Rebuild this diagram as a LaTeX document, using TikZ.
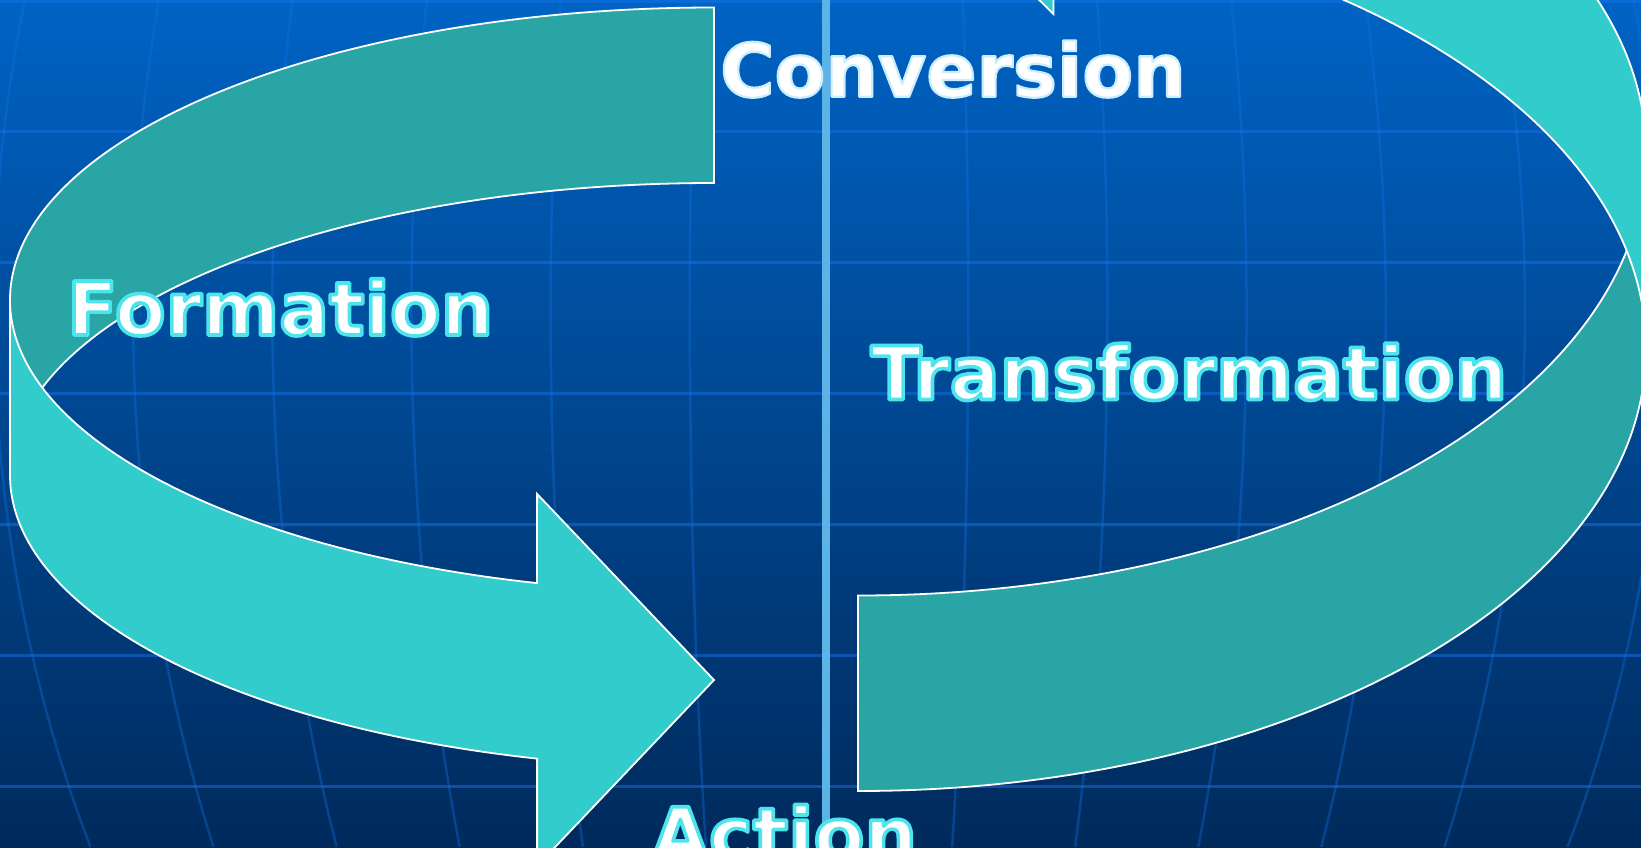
\documentclass[tikz,border=0pt]{standalone}
\usepackage{fontspec}
\newfontfamily\lblfont{DejaVu Sans}
\definecolor{bgtop}{HTML}{0063C4}
\definecolor{bgmid}{HTML}{00468F}
\definecolor{bgbot}{HTML}{002A5C}
\definecolor{gridc}{HTML}{1472E8}
\definecolor{tealdark}{HTML}{29A5A5}
\definecolor{teallight}{HTML}{33CCCC}
\definecolor{dividerc}{HTML}{5CB4E6}
% outlined text: fill (current colour) plus a stroke of given width and rgb colour
\newcommand\outl[3]{\special{pdf:literal direct #2 RG #1 w 1 j 2 Tr}#3\special{pdf:literal direct 0 Tr}}
\newcommand\glowlbl[1]{\textcolor{white}{\outl{3.6}{0.30 0.90 0.93}{#1}}}
\newcommand\convlbl[1]{\textcolor{white}{\outl{2.2}{0.80 0.93 1.00}{#1}}}
\begin{document}
\begin{tikzpicture}[x=1pt,y=-1pt,
  band/.style={draw=white, line width=1.8pt, line join=miter},
  hgrid/.style={draw=gridc, draw opacity=0.5, line width=3pt},
  mgrid/.style={draw=gridc, draw opacity=0.35, line width=2.5pt},
  dividerline/.style={draw=dividerc, line width=8pt},
  lbl/.style={inner sep=0pt, anchor=base west, font=\lblfont\bfseries\fontsize{74}{80}\selectfont}]
\useasboundingbox (0,0) rectangle (1641,847);
\begin{scope}
\clip (0,0) rectangle (1641,847);
% background
\shade[top color=bgtop, middle color=bgmid, bottom color=bgbot] (0,0) rectangle (1641,847);
% grid
\foreach \gy in {1.5,131,262,393,524,655,786}
  \draw[hgrid] (0,\gy) -- (1641,\gy);
\foreach \k in {-6,...,6}
  \draw[mgrid] plot[domain=0:847, samples=30, variable=\t]
    ({829+(\k)*139.2*sqrt(1-((\t-310)/1150)^2)}, \t);
% left curved arrow: back band
\draw[band, fill=tealdark] (714,7.5)
  arc[start angle=270, end angle=180, x radius=704, y radius=292.5]
  -- (10,475.5)
  arc[start angle=180, end angle=270, x radius=704, y radius=292.5]
  -- cycle;
% left curved arrow: front band with head
\draw[band, fill=teallight] (10,300)
  arc[start angle=180, end angle=104.56, x radius=704, y radius=292.5]
  -- (537.1,494) -- (714,680) -- (537.1,866) -- (537.1,758.6)
  arc[start angle=104.56, end angle=180, x radius=704, y radius=292.5]
  -- cycle;
% right curved arrow: back band
\draw[band, fill=tealdark] (858,791)
  arc[start angle=90, end angle=0, x radius=788, y radius=442.6]
  -- (1646,152.9)
  arc[start angle=0, end angle=90, x radius=788, y radius=442.6]
  -- cycle;
% right curved arrow: front band with head
\draw[band, fill=teallight] (1646,348.4)
  arc[start angle=0, end angle=-75.63, x radius=788, y radius=442.6]
  -- (1053.5,14) -- (858,-178) -- (1053.5,-370) -- (1053.5,-275.9)
  arc[start angle=-75.63, end angle=0, x radius=788, y radius=442.6]
  -- cycle;
% divider
\coordinate (divtop) at (826,0);
\coordinate (divbot) at (826,847);
\draw[dividerline] (divtop) -- (divbot);
% labels
\node[lbl] (conversion) at (720,96.7) {\convlbl{Conversion}};
\node[lbl] (formation) at (67,335) {\glowlbl{Formation}};
\node[lbl] (transformation) at (870.7,399.5) {\glowlbl{Transformation}};
\node[lbl] (action) at (651.5,860.7) {\glowlbl{Action}};
\end{scope}
\end{tikzpicture}
\end{document}
